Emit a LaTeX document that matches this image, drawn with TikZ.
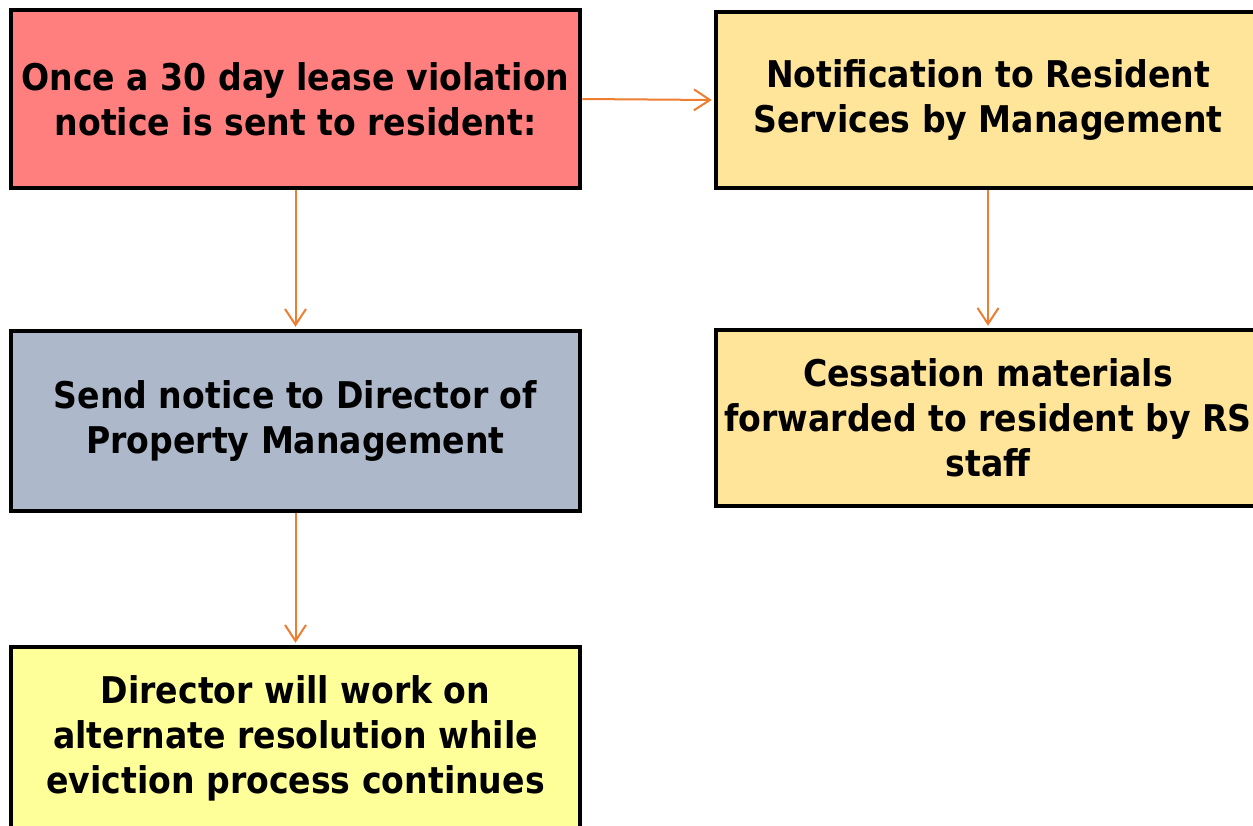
\documentclass[tikz,border=0pt]{standalone}
\usepackage{fontspec}
\setmainfont{DejaVu Sans}[FakeStretch=0.9]
\usetikzlibrary{arrows.meta}
\definecolor{cRed}{HTML}{FF7F7F}
\definecolor{cGold}{HTML}{FFE599}
\definecolor{cGray}{HTML}{ADB9CA}
\definecolor{cYel}{HTML}{FFFF99}
\definecolor{cArr}{HTML}{ED7D31}
\tikzset{
  box/.style={draw=black, line width=4.5pt, inner sep=0pt, align=center,
    font=\fontsize{36.8}{45}\selectfont\bfseries,
    execute at begin node={\rule{0pt}{38pt}}},
  conn/.style={draw=cArr, line width=2pt, -{Straight Barb[length=16pt,width=21pt,line width=2pt]}, shorten >=2pt}
}
\begin{document}
\begin{tikzpicture}[x=1pt,y=-1pt]
\useasboundingbox (0,0) rectangle (1253,825);
\clip (0,0) rectangle (1253,825);
\node[box, fill=cRed, minimum width=569pt, minimum height=178pt] (A) at (295.5,99)
  {Once a 30 day lease violation\\notice is sent to resident:};
\node[box, fill=cGold, minimum width=544pt, minimum height=176pt] (B) at (988,100)
  {Notification to Resident\\Services by Management};
\node[box, fill=cGray, minimum width=569pt, minimum height=180pt] (C) at (295.5,421)
  {Send notice to Director of\\Property Management};
\node[box, fill=cGold, minimum width=544pt, minimum height=176pt] (D) at (988,418)
  {Cessation materials\\forwarded to resident by RS\\staff};
\node[box, fill=cYel, minimum width=569pt, minimum height=182pt] (E) at (295.5,738)
  {Director will work on\\alternate resolution while\\eviction process continues};
\draw[conn] (A.east) -- (B.west);
\draw[conn] (A.south) -- (C.north);
\draw[conn] (C.south) -- (E.north);
\draw[conn] (B.south) -- (D.north);
\end{tikzpicture}
\end{document}
